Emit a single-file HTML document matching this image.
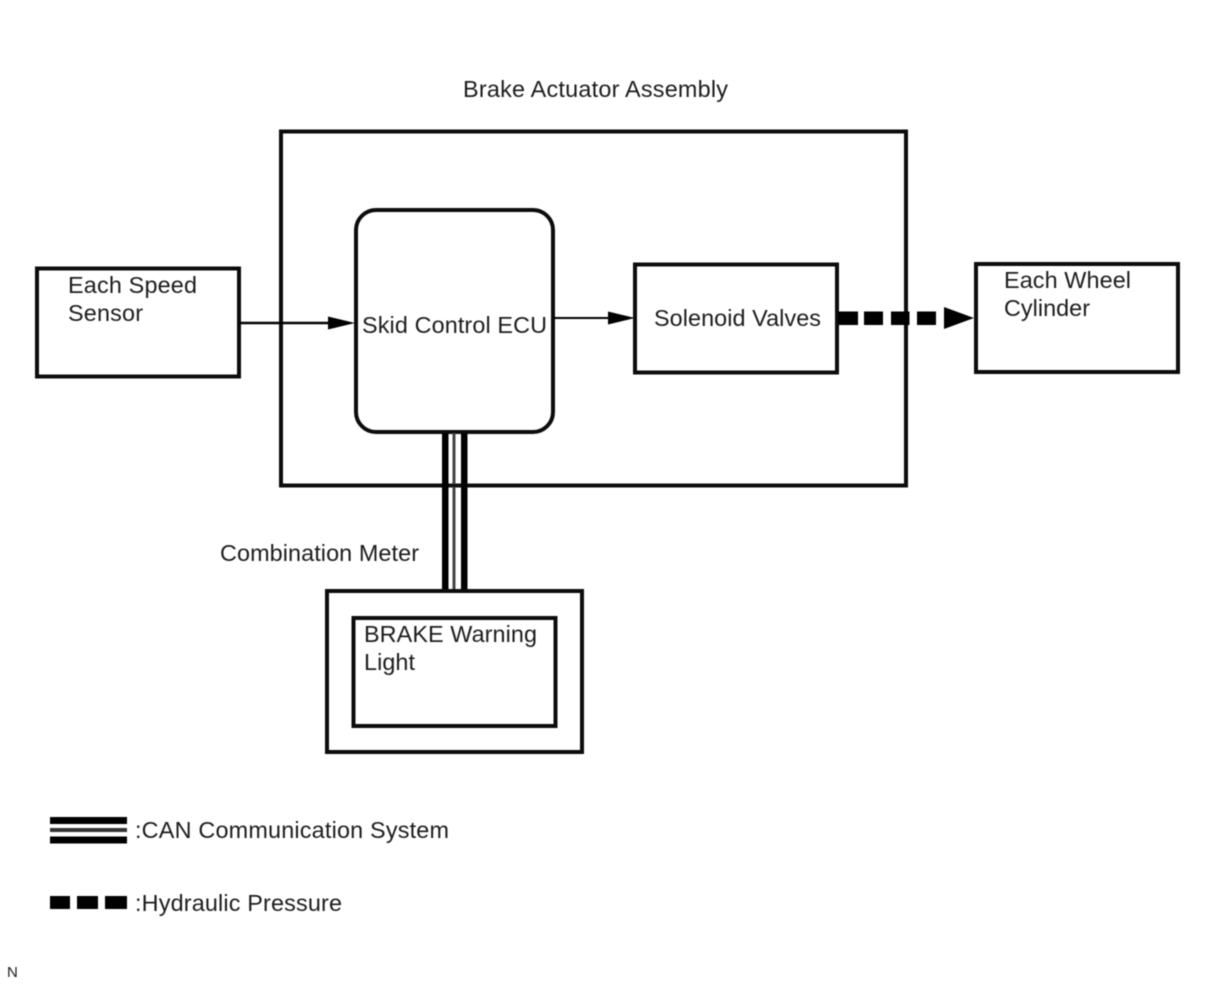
<!DOCTYPE html>
<html>
<head>
<meta charset="utf-8">
<style>
html,body{margin:0;padding:0;background:#fff;width:1210px;height:986px;overflow:hidden}
svg{display:block;filter:blur(0.4px)}
text{font-family:"Liberation Sans",sans-serif;font-size:23.4px;fill:#1c1c1c}
</style>
</head>
<body>
<svg width="1210" height="986" viewBox="0 0 1210 986" xmlns="http://www.w3.org/2000/svg">
<rect width="1210" height="986" fill="#fff"/>
<text x="463" y="97" textLength="265">Brake Actuator Assembly</text>
<rect x="281" y="131.500" width="625" height="354" fill="none" stroke="#0c0c0c" stroke-width="4"/>
<rect x="37" y="268.500" width="202" height="108" fill="#fff" stroke="#0c0c0c" stroke-width="4"/>
<text x="68" y="293" textLength="129">Each Speed</text>
<text x="68" y="321" textLength="75">Sensor</text>
<line x1="239" y1="323" x2="332" y2="323" stroke="#000" stroke-width="2.500"/>
<polygon points="328,316.500 355,323 328,329.500" fill="#000"/>
<rect x="356" y="210" width="197" height="222" rx="20" ry="20" fill="#fff" stroke="#0c0c0c" stroke-width="4"/>
<text x="362" y="333" textLength="185">Skid Control ECU</text>
<line x1="553" y1="318" x2="612" y2="318" stroke="#000" stroke-width="2"/>
<polygon points="608,311.500 635,318 608,324.500" fill="#000"/>
<rect x="635" y="264.500" width="202" height="108" fill="#fff" stroke="#0c0c0c" stroke-width="4"/>
<text x="654" y="326" textLength="167">Solenoid Valves</text>
<rect x="838" y="311.500" width="20" height="13.500" fill="#000"/>
<rect x="864" y="311.500" width="19" height="13.500" fill="#000"/>
<rect x="891" y="311.500" width="18.500" height="13.500" fill="#000"/>
<rect x="917" y="311.500" width="19" height="13.500" fill="#000"/>
<polygon points="944,307 974,318 944,329" fill="#000"/>
<rect x="976" y="264" width="202" height="108" fill="#fff" stroke="#0c0c0c" stroke-width="4"/>
<text x="1004" y="288" textLength="127">Each Wheel</text>
<text x="1004" y="316" textLength="86">Cylinder</text>
<rect x="442" y="433" width="6.500" height="158" fill="#000"/>
<rect x="452.500" y="433" width="3" height="158" fill="#444"/>
<rect x="461" y="433" width="6.500" height="158" fill="#000"/>
<rect x="448.500" y="484" width="12.500" height="3" fill="#111"/>
<text x="220" y="561" textLength="199">Combination Meter</text>
<rect x="327" y="591" width="255" height="161" fill="#fff" stroke="#0c0c0c" stroke-width="4"/>
<rect x="353.500" y="618" width="202" height="108" fill="#fff" stroke="#0c0c0c" stroke-width="4"/>
<text x="364" y="642" textLength="173">BRAKE Warning</text>
<text x="364" y="670" textLength="51">Light</text>
<rect x="50" y="817" width="77" height="7" fill="#000"/>
<rect x="50" y="828" width="77" height="4" fill="#333"/>
<rect x="50" y="836.500" width="77" height="7" fill="#000"/>
<text x="135" y="838" textLength="314">:CAN Communication System</text>
<rect x="50" y="896" width="20" height="13" fill="#000"/>
<rect x="77" y="896" width="21" height="13" fill="#000"/>
<rect x="105" y="896" width="22" height="13" fill="#000"/>
<text x="135" y="911" textLength="207">:Hydraulic Pressure</text>
<text x="7" y="977" style="font-size:15px">N</text>
</svg>
</body>
</html>
